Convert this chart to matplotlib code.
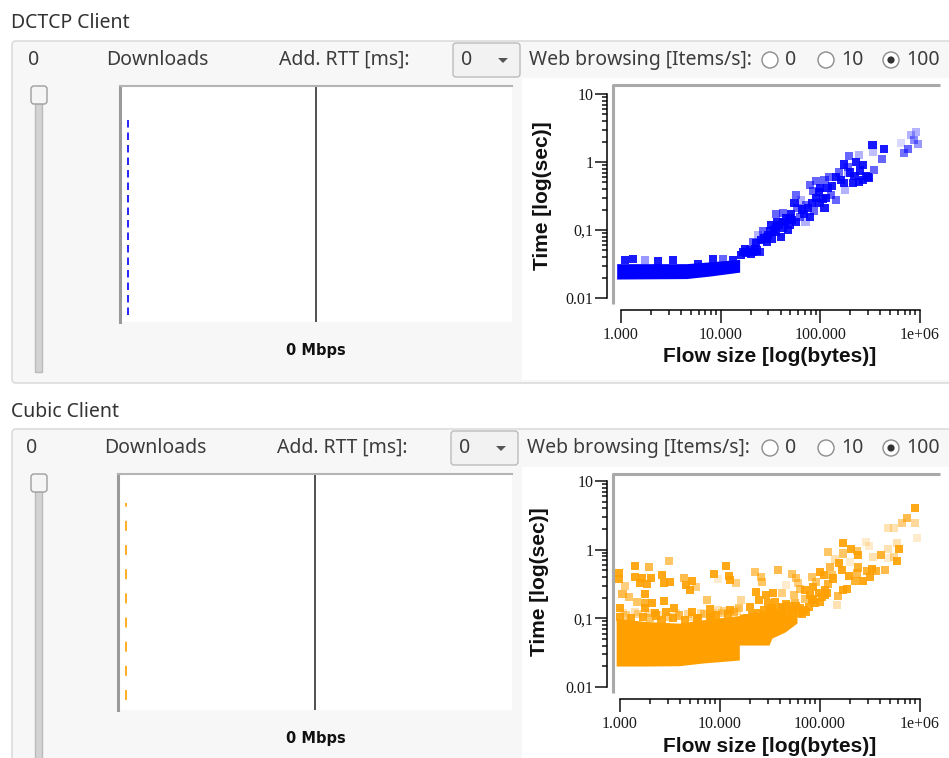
import matplotlib
matplotlib.use('Agg')
import matplotlib.pyplot as plt
import numpy as np
from matplotlib.patches import Rectangle, FancyBboxPatch, Circle, Polygon
from matplotlib.ticker import FixedLocator, FixedFormatter, NullFormatter
from matplotlib.colors import to_rgb

W, H = 949, 758

## values
panel_titles = ['DCTCP Client', 'Cubic Client']
downloads = [0, 0]
add_rtt_ms = [0, 0]
throughput_mbps = [0, 0]
web_rate_options = [0, 10, 100]
web_rate_selected = [100, 100]

x_ticks = [1e3, 1e4, 1e5, 1e6]
x_tick_labels = ['1.000', '10.000', '100.000', '1e+06']
y_ticks = [0.01, 0.1, 1, 10]
y_tick_labels = ['0.01', '0,1', '1', '10']

# dense part of each cloud (flow size, lower / upper time)
dctcp_band_size = [905, 4540, 7760, 15500]
dctcp_band_lo = [0.019, 0.0193, 0.021, 0.024]
dctcp_band_hi = [0.032, 0.032, 0.034, 0.037]

cubic_band_size = [915, 1800, 3900, 6600, 15600, 15600, 30900, 33100, 44700, 58900]
cubic_band_lo = [0.0202, 0.0202, 0.0204, 0.0223, 0.0247, 0.0408, 0.0408, 0.0516, 0.0632, 0.0855]
cubic_band_hi = [0.10, 0.09, 0.085, 0.095, 0.11, 0.115, 0.125, 0.13, 0.125, 0.11]

# single flows (bytes, seconds, opacity)
dctcp_size = [1100, 1330, 1740, 2360, 3340, 5930, 8380, 10500, 13300,
              16100, 16700, 18000, 19500, 21000, 24500, 17500, 22000, 20000, 23000,
              807000, 906000, 871000, 961000, 692000, 764000, 641000,
              334000, 436000, 341000, 420000, 347000,
              195000, 242000, 227000, 269000, 171000, 188000, 286000, 304000, 245000,
              211000, 174000, 155000, 144000, 123000, 110000, 91000, 78000, 85000,
              96000, 118000, 128000, 106000, 144000, 178000, 98000, 110000, 87000,
              72000, 64000, 57000, 55000, 59000, 51000, 57000, 62000, 78000, 71000,
              42000, 45000, 36000, 37000, 32000, 31000, 36000, 42000, 49000, 40000,
              33000, 29000, 25500, 23600, 26500, 22700, 21000, 24500, 29000, 36000,
              42000, 49000, 27000, 30000, 34000, 38000, 44000, 47000, 52000, 65000,
              68000, 75000, 82000, 90000, 100000, 115000, 130000, 160000, 200000,
              250000, 190000, 220000, 270000, 300000]
dctcp_time = [0.036, 0.037, 0.036, 0.035, 0.036, 0.032, 0.037, 0.037, 0.036,
              0.043, 0.048, 0.046, 0.051, 0.048, 0.048, 0.052, 0.053, 0.044, 0.05,
              2.5, 2.8, 2.1, 1.82, 1.34, 1.55, 1.92,
              1.78, 1.55, 1.42, 1.11, 0.76,
              1.22, 1.27, 0.99, 0.90, 0.92, 0.68, 0.63, 0.59, 0.51,
              0.49, 0.49, 0.70, 0.61, 0.61, 0.54, 0.53, 0.46, 0.37,
              0.36, 0.41, 0.33, 0.29, 0.28, 0.39, 0.25, 0.21, 0.19,
              0.23, 0.28, 0.33, 0.25, 0.21, 0.17, 0.13, 0.157, 0.157, 0.13,
              0.176, 0.149, 0.17, 0.13, 0.119, 0.095, 0.095, 0.106, 0.119, 0.080,
              0.075, 0.080, 0.071, 0.085, 0.095, 0.064, 0.067, 0.048, 0.067, 0.11,
              0.13, 0.149, 0.075, 0.085, 0.10, 0.12, 0.13, 0.10, 0.14, 0.20,
              0.17, 0.21, 0.25, 0.30, 0.42, 0.30, 0.45, 0.55, 0.70,
              0.75, 0.85, 0.62, 0.55, 0.60]
dctcp_opacity = [0.9, 0.9, 0.4, 0.9, 0.9, 0.9, 0.9, 0.6, 0.9,
                 0.9, 0.9, 0.9, 0.9, 0.9, 0.6, 0.9, 0.9, 0.9, 0.9,
                 0.3, 0.3, 0.45, 0.4, 0.55, 0.6, 0.15,
                 0.9, 0.9, 0.25, 0.6, 0.6,
                 0.6, 0.3, 0.9, 0.9, 0.9, 0.3, 0.9, 0.9, 0.9,
                 0.9, 0.9, 0.6, 0.9, 0.6, 0.6, 0.6, 0.6, 0.6,
                 0.9, 0.9, 0.6, 0.9, 0.6, 0.3, 0.9, 0.9, 0.6,
                 0.6, 0.3, 0.6, 0.9, 0.6, 0.9, 0.9, 0.6, 0.9, 0.3,
                 0.6, 0.9, 0.6, 0.9, 0.9, 0.9, 0.9, 0.9, 0.9, 0.9,
                 0.9, 0.9, 0.9, 0.3, 0.6, 0.9, 0.6, 0.6, 0.9, 0.9,
                 0.9, 0.9, 0.9, 0.9, 0.9, 0.9, 0.9, 0.9, 0.9, 0.9,
                 0.9, 0.9, 0.9, 0.9, 0.9, 0.9, 0.9, 0.9, 0.9,
                 0.9, 0.6, 0.9, 0.9, 0.9]

cubic_size = [1420, 1940, 3110, 11500, 37700, 22600, 985, 970, 1420, 1660,
              1600, 1860, 2060, 2630, 2730, 3190, 4330, 4570, 4970, 5750,
              5250, 8650, 9550, 12200, 12700, 14500, 25900, 26300, 52500, 57500,
              60300, 45700, 83200, 91200, 100700, 109000, 127000, 1130, 1060, 1240,
              1760, 1480, 1790, 2090, 2730, 1010, 1790, 2220, 2880, 3440,
              5250, 7410, 7880, 5890, 8070, 16300, 23100, 28800, 33900, 41700,
              54500, 71300, 24400, 30200, 35700, 55800, 71300, 83200, 97000, 113000,
              20100, 15400, 12700, 9550,
              61200, 68700, 77100, 89800, 105000, 117500, 38600, 45000, 33100, 28400,
              24400, 20900, 17900, 22600, 30700, 41700, 52500,
              891000, 736000, 666000, 891000, 926000, 475000, 554000, 288000, 309000, 593000,
              617000, 475000, 593000, 554000, 475000, 407000, 447000, 336000, 363000, 329000,
              297000, 316000, 267000, 224000, 236000, 242000, 242000, 204000, 233000, 171000,
              169000, 121000, 141000, 156000, 165000, 200000, 131000, 196000, 185000, 171000,
              152000, 134000, 121000, 147000,
              84500, 79400, 85700, 112000, 100000, 63000,
              # ragged top of the dense block
              1000, 1150, 1300, 1500, 1700, 2000, 2300, 2600, 3000, 3400,
              3900, 4500, 5200, 6000, 7000, 8000, 9200, 10500, 12000, 13800,
              1080, 1400, 1900, 2500, 3600, 4800, 6500, 8600, 11000, 14800,
              # dense part beyond 16 kB
              17000, 18500, 19500, 21000, 22500, 24000, 26000, 27500, 29000, 31000,
              33000, 35000, 37500, 40000, 43000, 46000, 50000, 54000, 58000, 63000,
              36000, 40000, 48000, 66000, 72000]
cubic_time = [0.577, 0.552, 0.683, 0.577, 0.505, 0.477, 0.461, 0.369, 0.403, 0.382,
              0.323, 0.316, 0.382, 0.427, 0.33, 0.338, 0.382, 0.305, 0.258, 0.283,
              0.353, 0.441, 0.369, 0.413, 0.361, 0.33, 0.403, 0.341, 0.441, 0.382,
              0.33, 0.305, 0.403, 0.341, 0.477, 0.427, 0.552, 0.295, 0.226, 0.207,
              0.223, 0.175, 0.169, 0.169, 0.179, 0.143, 0.143, 0.121, 0.125, 0.14,
              0.125, 0.185, 0.137, 0.10, 0.103, 0.185, 0.244, 0.218, 0.231, 0.231,
              0.218, 0.258, 0.185, 0.169, 0.175, 0.169, 0.189, 0.185, 0.231, 0.258,
              0.148, 0.14, 0.132, 0.132,
              0.118, 0.132, 0.148, 0.165, 0.207, 0.231, 0.106, 0.118, 0.0944, 0.0845,
              0.0755, 0.0675, 0.0639, 0.106, 0.132, 0.148, 0.132,
              4.08, 2.85, 2.47, 2.47, 1.49, 2.04, 2.04, 1.31, 1.13, 1.26,
              1.03, 1.03, 0.69, 0.79, 0.75, 0.83, 0.50, 0.79, 0.49, 0.53,
              0.49, 0.40, 0.35, 0.35, 0.45, 0.55, 0.83, 1.01, 0.97, 1.26,
              0.88, 0.92, 0.72, 0.63, 0.50, 0.67, 0.43, 0.41, 0.27, 0.26,
              0.21, 0.38, 0.32, 0.156,
              0.29, 0.22, 0.19, 0.22, 0.175, 0.27,
              0.105, 0.11, 0.1, 0.115, 0.105, 0.1, 0.11, 0.095, 0.105, 0.1,
              0.11, 0.095, 0.105, 0.1, 0.115, 0.105, 0.11, 0.12, 0.115, 0.125,
              0.12, 0.125, 0.118, 0.112, 0.12, 0.115, 0.118, 0.12, 0.128, 0.13,
              0.09, 0.1, 0.08, 0.11, 0.09, 0.12, 0.1, 0.13, 0.11, 0.12,
              0.14, 0.12, 0.13, 0.11, 0.14, 0.16, 0.15, 0.12, 0.15, 0.14,
              0.1, 0.09, 0.095, 0.115, 0.125]
cubic_opacity = [0.9, 0.7, 0.6, 0.9, 0.7, 0.6, 0.9, 0.9, 0.9, 0.9,
                 0.9, 0.9, 0.9, 0.9, 0.9, 0.9, 0.7, 0.9, 0.9, 0.5,
                 0.9, 0.9, 0.2, 0.9, 0.9, 0.5, 0.6, 0.6, 0.6, 0.6,
                 0.5, 0.2, 0.6, 0.6, 0.9, 0.9, 0.7, 0.5, 0.7, 0.6,
                 0.9, 0.6, 0.8, 0.9, 0.9, 0.9, 0.9, 0.9, 0.9, 0.9,
                 0.9, 0.6, 0.9, 0.9, 0.9, 0.4, 0.9, 0.9, 0.9, 0.5,
                 0.6, 0.9, 0.9, 0.9, 0.9, 0.7, 0.6, 0.9, 0.9, 0.9,
                 0.9, 0.6, 0.9, 0.3,
                 0.9, 0.9, 0.9, 0.9, 0.9, 0.9, 0.9, 0.9, 0.9, 0.9,
                 0.9, 0.9, 0.9, 0.9, 0.9, 0.9, 0.9,
                 0.9, 0.7, 0.5, 0.4, 0.2, 0.3, 0.3, 0.2, 0.2, 0.3,
                 0.9, 0.3, 0.9, 0.4, 0.2, 0.8, 0.7, 0.3, 0.8, 0.9,
                 0.8, 0.9, 0.9, 0.8, 0.7, 0.8, 0.9, 0.9, 0.6, 0.9,
                 0.6, 0.6, 0.3, 0.9, 0.9, 0.2, 0.6, 0.9, 0.9, 0.9,
                 0.7, 0.9, 0.8, 0.3,
                 0.9, 0.9, 0.9, 0.9, 0.9, 0.6,
                 0.9, 0.5, 0.9, 0.4, 0.9, 0.6, 0.9, 0.9, 0.5, 0.9,
                 0.7, 0.9, 0.4, 0.9, 0.6, 0.9, 0.9, 0.5, 0.9, 0.7,
                 0.3, 0.3, 0.4, 0.3, 0.3, 0.4, 0.3, 0.3, 0.4, 0.3,
                 0.9, 0.9, 0.9, 0.9, 0.9, 0.9, 0.9, 0.9, 0.9, 0.9,
                 0.9, 0.9, 0.9, 0.9, 0.9, 0.9, 0.9, 0.9, 0.9, 0.9,
                 0.9, 0.9, 0.9, 0.9, 0.9]

colors = ['#0000ff', '#ffa000']
series = [
    (dctcp_band_size, dctcp_band_lo, dctcp_band_hi, dctcp_size, dctcp_time, dctcp_opacity),
    (cubic_band_size, cubic_band_lo, cubic_band_hi, cubic_size, cubic_time, cubic_opacity),
]

## layout in screen pixels
layouts = [
    dict(dx=0, title_y=23, box=(12, 41, 383), row_y=60, graph=(120, 86, 512, 322),
         dash=(115, 315), dash_pat=(4.5, 3), mbps_y=351, slider=(86, 372),
         white=(522, 78, 380), ax=(613, 85, 940, 304), xpix=(621, 920), ypix=(298, 94),
         ylab=(543, 196), xlab_y=357),
    dict(dx=-2, title_y=412, box=(12, 429, 780), row_y=448, graph=(118, 474, 512, 710),
         dash=(503, 700), dash_pat=(6, 8.5), mbps_y=739, slider=(474, 760),
         white=(522, 467, 758), ax=(613, 474, 940, 693), xpix=(620, 920), ypix=(687, 481),
         ylab=(540, 582), xlab_y=747),
]

UI_FONT = ['Noto Sans', 'DejaVu Sans']
TXT = '#3c3c3c'
FS = 14


def fig_rect(x0, y0, x1, y1):
    return [x0 / W, 1 - y1 / H, (x1 - x0) / W, (y1 - y0) / H]


def log_at(p, p0, p1, v0, v1):
    a, b = np.log10(v0), np.log10(v1)
    return 10 ** (a + (p - p0) * (b - a) / (p1 - p0))


fig = plt.figure(figsize=(W / 100, H / 100), dpi=100)
fig.patch.set_facecolor('white')

ui = fig.add_axes([0, 0, 1, 1])
ui.set_xlim(0, W)
ui.set_ylim(H, 0)
ui.axis('off')

for i, L in enumerate(layouts):
    dx = L['dx']
    # group box
    bx, by0, by1 = L['box']
    ui.add_patch(FancyBboxPatch((bx, by0), W + 20 - bx, by1 - by0,
                                boxstyle='round,pad=0,rounding_size=4',
                                fc='#f7f7f7', ec='#d6d6d6', lw=1))
    ui.text(11, L['title_y'], panel_titles[i], fontsize=FS, family=UI_FONT,
            color='#333333', va='center', ha='left')

    # controls row
    ry = L['row_y']
    ui.text(34 + dx, ry, str(downloads[i]), fontsize=FS, family=UI_FONT, color=TXT, va='center', ha='center')
    ui.text(106 + dx, ry, 'Downloads', fontsize=FS, family=UI_FONT, color=TXT, va='center')
    ui.text(279 + dx, ry, 'Add. RTT [ms]:', fontsize=FS, family=UI_FONT, color=TXT, va='center')
    ui.add_patch(FancyBboxPatch((453 + dx, ry - 17), 67, 34,
                                boxstyle='round,pad=0,rounding_size=3',
                                fc='#f2f2f2', ec='#bcbcbc', lw=1))
    ui.text(461 + dx, ry, str(add_rtt_ms[i]), fontsize=FS, family=UI_FONT, color=TXT, va='center')
    ax0 = 503 + dx
    ui.add_patch(Polygon([(ax0 - 5, ry - 2), (ax0 + 5, ry - 2), (ax0, ry + 3)],
                         closed=True, fc='#555555', ec='none'))
    ui.text(529 + dx, ry, 'Web browsing [Items/s]:', fontsize=FS, family=UI_FONT, color=TXT, va='center')
    for cx, opt in zip([770, 826, 891], web_rate_options):
        ui.add_patch(Circle((cx, ry), 8, fc='white', ec='#8c8c8c', lw=1))
        if opt == web_rate_selected[i]:
            ui.add_patch(Circle((cx, ry), 3.6, fc='#333333', ec='none'))
        ui.text(cx + 15, ry, str(opt), fontsize=FS, family=UI_FONT, color=TXT, va='center')

    # slider
    s0, s1 = L['slider']
    ui.add_patch(Rectangle((35, s0 + 16), 7, s1 - s0 - 16, fc='#d3d3d3', ec='#bababa', lw=1))
    ui.add_patch(FancyBboxPatch((31, s0), 16, 18, boxstyle='round,pad=0,rounding_size=3',
                                fc='#f5f5f5', ec='#9e9e9e', lw=1))

    # throughput graph
    gx0, gy0, gx1, gy1 = L['graph']
    g = fig.add_axes(fig_rect(gx0, gy0, gx1, gy1))
    g.set_facecolor('white')
    g.set_xlim(-1, 1)
    g.set_ylim(0, 1)
    g.set_xticks([])
    g.set_yticks([])
    for side in ['right', 'bottom']:
        g.spines[side].set_visible(False)
    g.spines['left'].set_color('#9a9a9a')
    g.spines['left'].set_linewidth(2.2)
    g.spines['top'].set_color('#b4b4b4')
    g.spines['top'].set_linewidth(1.5)
    g.axvline(throughput_mbps[i], color='#222222', lw=1.1)
    d0, d1 = L['dash']
    g.axvline(-0.96, ymin=(gy1 - d1) / (gy1 - gy0), ymax=(gy1 - d0) / (gy1 - gy0),
              color=colors[i], lw=1.2, dashes=L['dash_pat'])
    ui.text(316, L['mbps_y'], '%d Mbps' % throughput_mbps[i], fontsize=10.5,
            family=['DejaVu Sans'], fontweight='bold', color='#111111',
            va='center', ha='center')

    # scatter panel background
    wx, wy0, wy1 = L['white']
    ui.add_patch(Rectangle((wx, wy0), W - wx, wy1 - wy0, fc='white', ec='none'))

    band_size, band_lo, band_hi, size, tm, op = series[i]
    x0, y0, x1, y1 = L['ax']
    ax = fig.add_axes(fig_rect(x0, y0, x1, y1))
    ax.patch.set_alpha(0)
    ax.set_xscale('log')
    ax.set_yscale('log')
    xp0, xp1 = L['xpix']
    ax.set_xlim(log_at(x0, xp0, xp1, 1e3, 1e6), log_at(x1, xp0, xp1, 1e3, 1e6))
    yp0, yp1 = L['ypix']
    ax.set_ylim(log_at(y1, yp0, yp1, 0.01, 10), log_at(y0, yp0, yp1, 0.01, 10))

    rgb = to_rgb(colors[i])
    ax.fill_between(band_size, band_lo, band_hi, color=colors[i], lw=0)
    ax.scatter(size, tm, s=34, marker='s', linewidths=0,
               c=[(rgb[0], rgb[1], rgb[2], a) for a in op])

    for side in ['top', 'right']:
        ax.spines[side].set_visible(False)
    ax.spines['left'].set_position(('outward', 4))
    ax.spines['bottom'].set_position(('outward', 4.3))
    ax.spines['left'].set_bounds(0.01, 10)
    ax.spines['bottom'].set_bounds(1e3, 1e6)
    for side in ['left', 'bottom']:
        ax.spines[side].set_linewidth(1.1)
    # grey frame of the plot area
    ax.plot([0, 0, 1], [0, 1, 1], transform=ax.transAxes, clip_on=False,
            color='#a9a9a9', lw=2.2, solid_capstyle='butt')

    ax.xaxis.set_major_locator(FixedLocator(x_ticks))
    ax.xaxis.set_major_formatter(FixedFormatter(x_tick_labels))
    ax.yaxis.set_major_locator(FixedLocator(y_ticks))
    ax.yaxis.set_major_formatter(FixedFormatter(y_tick_labels))
    ax.xaxis.set_minor_locator(FixedLocator([m * 10.0 ** e for e in range(3, 6) for m in range(2, 10)]))
    ax.yaxis.set_minor_locator(FixedLocator([m * 10.0 ** e for e in range(-2, 1) for m in range(2, 10)]))
    ax.xaxis.set_minor_formatter(NullFormatter())
    ax.yaxis.set_minor_formatter(NullFormatter())
    ax.tick_params(which='major', length=9, width=1.1, color='#111111')
    ax.tick_params(which='minor', length=3.5, width=1.1, color='#111111')
    ax.tick_params(axis='y', pad=1)
    ax.tick_params(axis='x', pad=3)
    for lab in ax.get_xticklabels() + ax.get_yticklabels():
        lab.set_family(['Liberation Serif', 'DejaVu Serif'])
        lab.set_fontsize(11.5)
        lab.set_color('#1a1a1a')

    ui.text(L['ylab'][0], L['ylab'][1], 'Time [log(sec)]', rotation=90, fontsize=15,
            family=['Liberation Sans', 'DejaVu Sans'], fontweight='bold', color='#111111',
            va='center', ha='center')
    ui.text(770, L['xlab_y'], 'Flow size [log(bytes)]', fontsize=15,
            family=['Liberation Sans', 'DejaVu Sans'], fontweight='bold', color='#111111',
            va='center', ha='center')

fig.savefig('out.png', dpi=100)
